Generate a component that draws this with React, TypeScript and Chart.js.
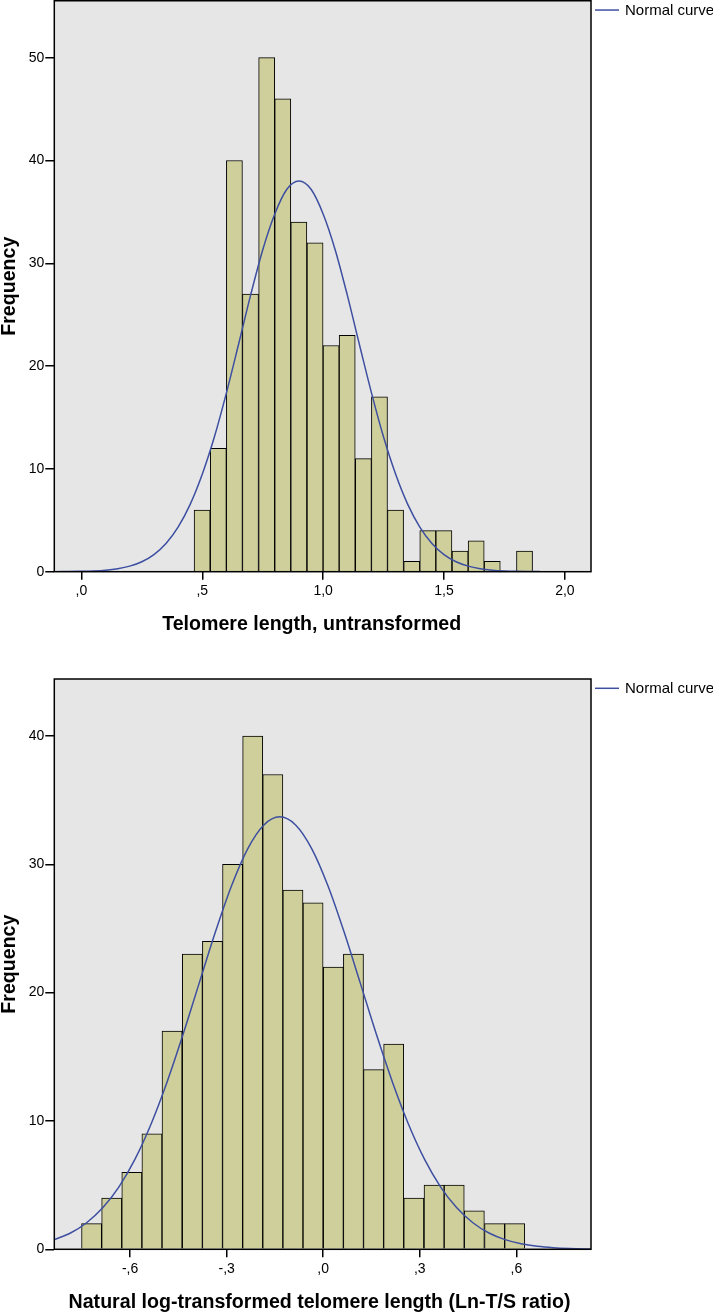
import React, { useEffect, useRef } from "react";
import { Chart, registerables } from "chart.js";

Chart.register(...registerables);

// ---------- Data: top histogram (untransformed) ----------
const topBinEdges = [
  0.466, 0.533, 0.6, 0.666, 0.733, 0.8, 0.866, 0.933, 1.0, 1.066, 1.133,
  1.2, 1.266, 1.333, 1.4, 1.466, 1.533, 1.6, 1.666, 1.733, 1.8, 1.866,
];
const topCounts = [6, 12, 40, 27, 50, 46, 34, 32, 22, 23, 11, 17, 6, 1, 4, 4, 2, 3, 1, 0, 2];
const topCurveX = [
  -0.112, 0.0, 0.05, 0.1, 0.15, 0.2, 0.25, 0.3, 0.35, 0.4, 0.45, 0.5, 0.55, 0.6, 0.65, 0.7,
  0.75, 0.8, 0.85, 0.9, 0.95, 1.0, 1.05, 1.1, 1.15, 1.2, 1.25, 1.3, 1.35, 1.4, 1.45, 1.5,
  1.55, 1.6, 1.65, 1.7, 1.75, 1.8, 1.9, 2.0, 2.108,
];
const topCurveY = [
  0.005, 0.034, 0.072, 0.147, 0.288, 0.54, 0.97, 1.67, 2.75, 4.34, 6.55, 9.48, 13.1, 17.4, 22.1, 26.9,
  31.3, 34.8, 37.2, 38.0, 37.2, 34.8, 31.3, 26.9, 22.1, 17.4, 13.1, 9.48, 6.55, 4.34, 2.75, 1.67,
  0.97, 0.54, 0.288, 0.147, 0.072, 0.034, 0.007, 0.001, 0.0,
];
const topXTicks = [0, 0.5, 1, 1.5, 2];
const topXTickLabels = [",0", ",5", "1,0", "1,5", "2,0"];
const topYTicks = [0, 10, 20, 30, 40, 50];
const topYTickLabels = ["0", "10", "20", "30", "40", "50"];
const topXTitle = "Telomere length, untransformed";

// ---------- Data: bottom histogram (log-transformed) ----------
const botBinEdges = [
  -0.751, -0.688, -0.626, -0.563, -0.501, -0.438, -0.375, -0.313, -0.25, -0.188, -0.125,
  -0.063, 0.0, 0.063, 0.125, 0.188, 0.25, 0.313, 0.376, 0.438, 0.501, 0.564, 0.626,
];
const botCounts = [2, 4, 6, 9, 17, 23, 24, 30, 40, 37, 28, 27, 22, 23, 14, 16, 4, 5, 5, 3, 2, 2];
const botCurveX = [
  -0.835, -0.785, -0.735, -0.685, -0.635, -0.585, -0.535, -0.485, -0.435, -0.385, -0.335,
  -0.285, -0.235, -0.185, -0.135, -0.085, -0.035, 0.015, 0.065, 0.115, 0.165, 0.215, 0.265,
  0.315, 0.365, 0.415, 0.465, 0.515, 0.565, 0.615, 0.665, 0.715, 0.765, 0.815, 0.832,
];
const botCurveY = [
  0.755, 1.27, 2.07, 3.23, 4.85, 7.01, 9.75, 13.04, 16.77, 20.76, 24.72,
  28.31, 31.19, 33.05, 33.7, 33.05, 31.19, 28.31, 24.72, 20.76, 16.77, 13.04, 9.75,
  7.01, 4.85, 3.23, 2.07, 1.27, 0.755, 0.431, 0.236, 0.124, 0.063, 0.031, 0.025,
];
const botXTicks = [-0.6, -0.3, 0, 0.3, 0.6];
const botXTickLabels = ["-,6", "-,3", ",0", ",3", ",6"];
const botYTicks = [0, 10, 20, 30, 40];
const botYTickLabels = ["0", "10", "20", "30", "40"];
const botXTitle = "Natural log-transformed telomere length (Ln-T/S ratio)";

const yTitle = "Frequency";
const legendLabel = "Normal curve";

// ---------- Style ----------
const FONT = '"Liberation Sans", Arial, Helvetica, sans-serif';
const BAR_FILL = "#cfcf9c";
const PLOT_BG = "#e6e6e6";
const CURVE = "#3d4fa1";
const W = 713;

type Cfg = {
  H: number;
  area: { left: number; top: number; right: number; bottom: number };
  edges: number[];
  counts: number[];
  curveX: number[];
  curveY: number[];
  xTicks: number[];
  xLabels: string[];
  yTicks: number[];
  yLabels: string[];
  xMin: number;
  xMax: number;
  yMax: number;
  xTitle: string;
  xTitleCenter: number;
};

const decorPlugin = {
  id: "decor",
  beforeDraw(chart: any) {
    const { ctx, chartArea: a } = chart;
    ctx.save();
    ctx.fillStyle = PLOT_BG;
    ctx.fillRect(a.left, a.top, a.right - a.left, a.bottom - a.top);
    ctx.restore();
  },
  afterDatasetsDraw(chart: any) {
    const { ctx, chartArea: a } = chart;
    ctx.save();
    ctx.strokeStyle = "#000";
    ctx.lineWidth = 1.5;
    ctx.strokeRect(a.left, a.top, a.right - a.left, a.bottom - a.top);
    ctx.restore();
  },
  afterDraw(chart: any, _args: any, opts: any) {
    const { ctx, chartArea: a } = chart;
    ctx.save();
    // legend
    const ly = a.top + 9.3;
    ctx.strokeStyle = CURVE;
    ctx.lineWidth = 1.5;
    ctx.beginPath();
    ctx.moveTo(a.right + 4, ly);
    ctx.lineTo(a.right + 28, ly);
    ctx.stroke();
    ctx.fillStyle = "#000";
    ctx.font = `15px ${FONT}`;
    ctx.textAlign = "left";
    ctx.textBaseline = "middle";
    ctx.fillText(legendLabel, a.right + 34, ly + 0.5);
    // x title
    ctx.font = `bold 19.6px ${FONT}`;
    ctx.textAlign = "center";
    ctx.textBaseline = "alphabetic";
    ctx.fillText(opts.xTitle, opts.xTitleCenter, a.bottom + 58.3);
    // y title
    ctx.translate(15.3, (a.top + a.bottom) / 2);
    ctx.rotate(-Math.PI / 2);
    ctx.fillText(yTitle, 0, 0);
    ctx.restore();
  },
};

function buildChart(canvas: HTMLCanvasElement, c: Cfg) {
  const centers = c.counts.map((_, i) => (c.edges[i] + c.edges[i + 1]) / 2);
  const tickFont = { family: FONT, size: 14 };
  return new Chart(canvas, {
    type: "bar",
    data: {
      datasets: [
        {
          type: "line",
          label: legendLabel,
          data: c.curveX.map((x, i) => ({ x, y: c.curveY[i] })),
          borderColor: CURVE,
          borderWidth: 1.5,
          pointRadius: 0,
          fill: false,
          cubicInterpolationMode: "monotone",
          order: 0,
        } as any,
        {
          type: "bar",
          label: "Frequency",
          data: centers.map((x, i) => ({ x, y: c.counts[i] })),
          backgroundColor: BAR_FILL,
          borderColor: "#000",
          borderWidth: 1,
          barPercentage: 1,
          categoryPercentage: 1,
          order: 1,
        } as any,
      ],
    },
    options: {
      animation: false,
      responsive: false,
      events: [],
      layout: {
        padding: { left: 0, top: c.area.top, right: W - c.area.right, bottom: 0 },
      },
      plugins: {
        legend: { display: false },
        tooltip: { enabled: false },
        decor: { xTitle: c.xTitle, xTitleCenter: c.xTitleCenter },
      } as any,
      scales: {
        x: {
          type: "linear",
          min: c.xMin,
          max: c.xMax,
          offset: false,
          afterBuildTicks: (s: any) => {
            s.ticks = c.xTicks.map((v) => ({ value: v }));
          },
          afterFit: (s: any) => {
            s.height = c.H - c.area.bottom;
            s.paddingLeft = 0;
            s.paddingRight = 0;
          },
          ticks: {
            autoSkip: false,
            maxRotation: 0,
            color: "#000",
            font: tickFont,
            padding: 3,
            callback: (v: any) => c.xLabels[c.xTicks.indexOf(Number(v))] ?? "",
          },
          grid: {
            display: true,
            offset: false,
            drawOnChartArea: false,
            drawTicks: true,
            tickLength: 8,
            tickColor: "#000",
            lineWidth: 1.5,
          },
          border: { display: false },
        },
        y: {
          type: "linear",
          min: 0,
          max: c.yMax,
          afterBuildTicks: (s: any) => {
            s.ticks = c.yTicks.map((v) => ({ value: v }));
          },
          afterFit: (s: any) => {
            s.width = c.area.left;
            s.paddingTop = 0;
            s.paddingBottom = 0;
          },
          ticks: {
            color: "#000",
            font: tickFont,
            padding: 1,
            callback: (v: any) => c.yLabels[c.yTicks.indexOf(Number(v))] ?? "",
          },
          grid: {
            display: true,
            drawOnChartArea: false,
            drawTicks: true,
            tickLength: 9,
            tickColor: "#000",
            lineWidth: 1.5,
          },
          border: { display: false },
        },
      },
    } as any,
    plugins: [decorPlugin as any],
  });
}

const topCfg: Cfg = {
  H: 650,
  area: { left: 54.3, top: 0.75, right: 591, bottom: 571.7 },
  edges: topBinEdges,
  counts: topCounts,
  curveX: topCurveX,
  curveY: topCurveY,
  xTicks: topXTicks,
  xLabels: topXTickLabels,
  yTicks: topYTicks,
  yLabels: topYTickLabels,
  xMin: -0.112,
  xMax: 2.108,
  yMax: 55.54,
  xTitle: topXTitle,
  xTitleCenter: 311.7,
};

const botCfg: Cfg = {
  H: 663,
  area: { left: 54.3, top: 29, right: 591, bottom: 599.3 },
  edges: botBinEdges,
  counts: botCounts,
  curveX: botCurveX,
  curveY: botCurveY,
  xTicks: botXTicks,
  xLabels: botXTickLabels,
  yTicks: botYTicks,
  yLabels: botYTickLabels,
  xMin: -0.8354,
  xMax: 0.832,
  yMax: 44.44,
  xTitle: botXTitle,
  xTitleCenter: 319.5,
};

function Histogram({ cfg, top }: { cfg: Cfg; top: number }) {
  const ref = useRef<HTMLCanvasElement>(null);
  useEffect(() => {
    if (!ref.current) return;
    const chart = buildChart(ref.current, cfg);
    return () => chart.destroy();
  }, [cfg]);
  return (
    <canvas
      ref={ref}
      width={W}
      height={cfg.H}
      style={{ position: "absolute", left: 0, top, width: W, height: cfg.H, display: "block" }}
    />
  );
}

export default function App() {
  useEffect(() => {
    document.body.style.margin = "0";
    document.body.style.background = "#fff";
  }, []);
  return (
    <div style={{ position: "absolute", left: 0, top: 0, width: W, height: 1313, background: "#fff", overflow: "hidden" }}>
      <Histogram cfg={topCfg} top={0} />
      <Histogram cfg={botCfg} top={650} />
    </div>
  );
}
